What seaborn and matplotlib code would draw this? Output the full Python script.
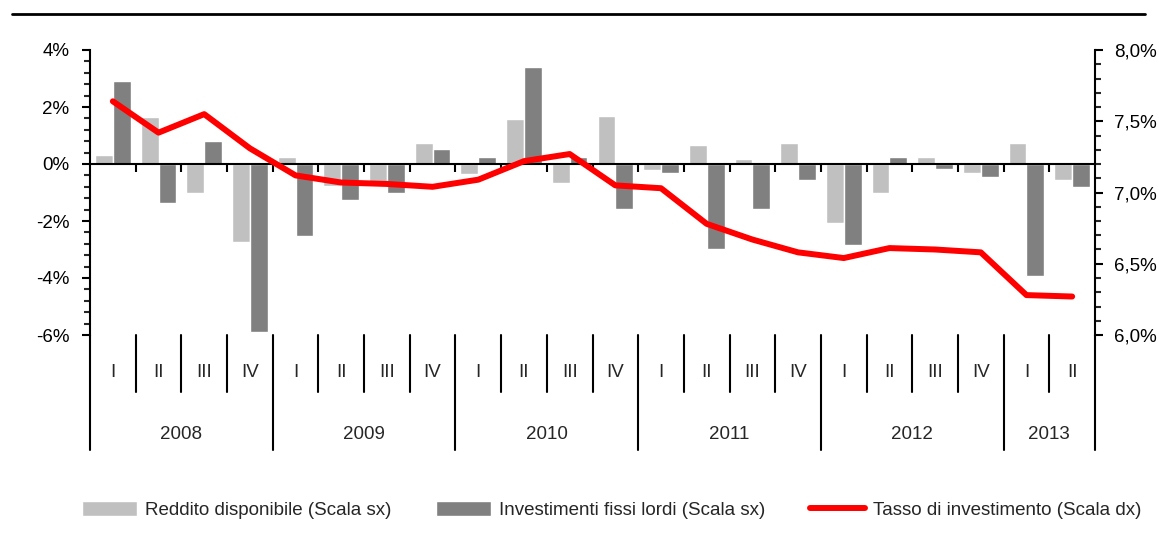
import matplotlib
matplotlib.use("Agg")
import matplotlib.pyplot as plt
import matplotlib.transforms as mtransforms
from matplotlib.lines import Line2D
from matplotlib.ticker import FuncFormatter, MultipleLocator
import numpy as np
import pandas as pd
import seaborn as sns

# data (quarterly, 2008-I .. 2013-II)
years = ["2008"] * 4 + ["2009"] * 4 + ["2010"] * 4 + ["2011"] * 4 + ["2012"] * 4 + ["2013"] * 2
quarters = ["I", "II", "III", "IV"] * 5 + ["I", "II"]

# % changes, left scale
reddito = [0.30, 1.64, -1.01, -2.74, 0.24, -0.78, -0.70, 0.73,
           -0.36, 1.59, -0.66, 1.70, -0.22, 0.65, 0.17, 0.73,
           -2.06, -1.01, 0.24, -0.31, 0.73, -0.57]
investimenti = [2.90, -1.36, 0.80, -5.89, -2.53, -1.27, -1.00, 0.54,
                0.24, 3.39, 0.24, -1.57, -0.31, -2.97, -1.57, -0.57,
                -2.83, 0.24, -0.17, -0.44, -3.94, -0.79]
# investment rate, right scale
tasso = [7.64, 7.42, 7.55, 7.31, 7.12, 7.07, 7.06, 7.04,
         7.09, 7.22, 7.27, 7.05, 7.03, 6.78, 6.67, 6.58,
         6.54, 6.61, 6.60, 6.58, 6.28, 6.27]

lab_red = "Reddito disponibile (Scala sx)"
lab_inv = "Investimenti fissi lordi (Scala sx)"
lab_tasso = "Tasso di investimento (Scala dx)"

periods = [f"{y}-{q}" for y, q in zip(years, quarters)]
df = pd.DataFrame({
    "period": periods * 2,
    "value": reddito + investimenti,
    "serie": [lab_red] * len(periods) + [lab_inv] * len(periods),
})

sns.set_theme(style="white")
plt.rcParams["font.family"] = ["Liberation Sans", "DejaVu Sans"]

fig = plt.figure(figsize=(11.59, 5.44), dpi=100)
ax = fig.add_axes([90 / 1159, 1 - 335 / 544, (1095 - 90) / 1159, 285 / 544])

sns.barplot(data=df, x="period", y="value", hue="serie", order=periods,
            hue_order=[lab_red, lab_inv],
            palette={lab_red: "#c0c0c0", lab_inv: "#808080"},
            width=0.78, saturation=1, ax=ax)

ax2 = ax.twinx()
sns.lineplot(x=np.arange(len(tasso)), y=tasso, color="#ff0000", lw=4.3,
             label=lab_tasso, ax=ax2)

ax.set_xlim(-0.5, len(periods) - 0.5)
ax.set_ylim(-6, 4)
ax2.set_ylim(6, 8)
ax.set_xlabel("")
ax.set_ylabel("")
ax2.set_ylabel("")

# left axis
ax.yaxis.set_major_locator(MultipleLocator(2))
ax.yaxis.set_minor_locator(MultipleLocator(0.4))
ax.yaxis.set_major_formatter(FuncFormatter(lambda v, p: f"{v:.0f}%"))
ax.tick_params(axis="y", which="major", direction="out", length=6, width=1.5,
               pad=9, labelsize=13.5, colors="black", left=True)
ax.tick_params(axis="y", which="minor", direction="out", length=4.5, width=1.5, left=True)

# right axis
ax2.yaxis.set_major_locator(MultipleLocator(0.5))
ax2.yaxis.set_minor_locator(MultipleLocator(0.1))
ax2.yaxis.set_major_formatter(FuncFormatter(lambda v, p: f"{v:.1f}%".replace(".", ",")))
ax2.tick_params(axis="y", which="major", direction="out", length=6, width=1.5,
                pad=8, labelsize=13.5, colors="black", right=True)
ax2.tick_params(axis="y", which="minor", direction="out", length=4.5, width=1.5, right=True)

# category axis sits on zero
for s in ["top", "right"]:
    ax.spines[s].set_visible(False)
for s in ["top", "left", "bottom"]:
    ax2.spines[s].set_visible(False)
ax.spines["left"].set_linewidth(1.5)
ax.spines["left"].set_color("black")
ax2.spines["right"].set_linewidth(1.5)
ax2.spines["right"].set_color("black")
ax.spines["bottom"].set_position(("data", 0))
ax.spines["bottom"].set_linewidth(1.5)
ax.spines["bottom"].set_color("black")
ax.set_xticks(np.arange(0.5, len(periods) - 1, 1))
ax.tick_params(axis="x", direction="out", length=6, width=1.5, labelbottom=False,
               bottom=True, colors="black")
ax2.tick_params(axis="x", bottom=False, labelbottom=False)

# multi-level category labels under the plot
trans = mtransforms.blended_transform_factory(ax.transData, ax.transAxes)
year_edges = [-0.5]
for i in range(1, len(years)):
    if years[i] != years[i - 1]:
        year_edges.append(i - 0.5)
year_edges.append(len(years) - 0.5)
for b in np.arange(-0.5, len(periods), 1):
    low = -0.4035 if b in year_edges else -0.2
    ax.plot([b, b], [0, low], transform=trans, clip_on=False, color="black", lw=1.5)
for i, q in enumerate(quarters):
    ax.text(i, -0.13, q, transform=trans, ha="center", va="center", fontsize=13.5)
for y in dict.fromkeys(years):
    idx = [i for i, v in enumerate(years) if v == y]
    ax.text(np.mean(idx), -0.35, y, transform=trans, ha="center", va="center", fontsize=13.5)

# header rule
fig.add_artist(Line2D([12 / 1159, 1145 / 1159], [1 - 13.5 / 544] * 2,
                      transform=fig.transFigure, color="black", lw=2))

# legend
h1, l1 = ax.get_legend_handles_labels()
h2, l2 = ax2.get_legend_handles_labels()
ax.get_legend().remove()
if ax2.get_legend() is not None:
    ax2.get_legend().remove()
fig.legend(h1 + h2, l1 + l2, loc="center", bbox_to_anchor=(0.528, 0.0625), ncol=3,
           frameon=False, fontsize=13.5, handlelength=2.9, handleheight=0.9,
           handletextpad=0.45, columnspacing=2.4)

fig.savefig("out.png", dpi=100)
